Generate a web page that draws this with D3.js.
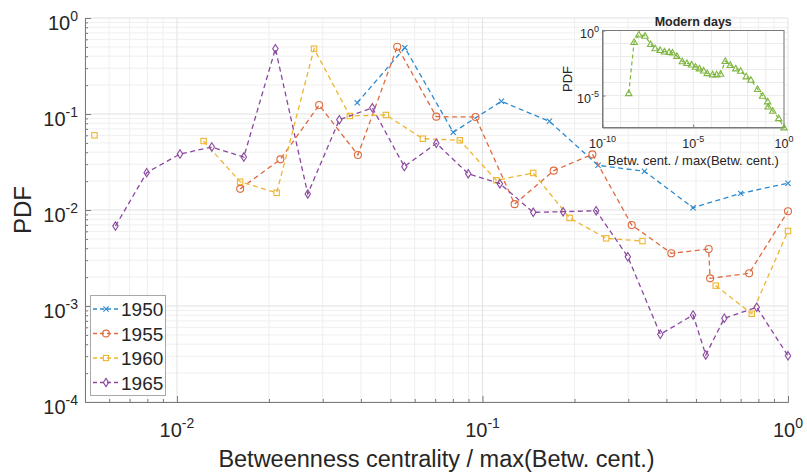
<!DOCTYPE html>
<html>
<head>
<meta charset="utf-8">
<script src="https://cdn.jsdelivr.net/npm/d3@7"></script>
<style>
  body { margin: 0; background: #fff; }
  svg { display: block; }
  text { font-family: "Liberation Sans", Arial, Helvetica, sans-serif; fill: #262626; }
</style>
</head>
<body>
<svg id="chart" width="807" height="472"></svg>
<script>
// ---- data: normalised betweenness centrality (x) vs PDF (y) per year ----
const seriesNames = ["1950", "1955", "1960", "1965"];

const x1950 = [0.0389, 0.0557, 0.0802, 0.1153, 0.1656, 0.2389, 0.339, 0.489, 0.700, 1.0];
const y1950 = [0.131, 0.491, 0.0645, 0.1356, 0.0839, 0.0292, 0.0253, 0.01057, 0.0149, 0.019];

const x1955 = [0.0161, 0.0218, 0.0292, 0.0391, 0.0526, 0.0706, 0.0949, 0.1274, 0.171, 0.229, 0.308, 0.415, 0.550, 0.556, 0.746, 1.0];
const y1955 = [0.0166, 0.0337, 0.124, 0.0374, 0.502, 0.0938, 0.0930, 0.0115, 0.0257, 0.038, 0.00698, 0.00354, 0.00392, 0.00194, 0.00219, 0.0097];

// empty bins (null) break the line
const x1960 = [0.00537, null, 0.01222, 0.0161, 0.0212, 0.0281, 0.0368, 0.0483, 0.0638, 0.0843, 0.111, 0.1466, 0.1928, 0.254, 0.334, null, 0.580, 0.761, 1.0];
const y1960 = [0.060, null, 0.0523, 0.0197, 0.0151, 0.479, 0.0953, 0.0977, 0.0553, 0.0532, 0.0204, 0.0243, 0.00826, 0.00507, 0.00475, null, 0.00163, 0.00083, 0.00604];

const x1965 = [0.00629, 0.00796, 0.01023, 0.0130, 0.01655, 0.0210, 0.0268, 0.0340, 0.0436, 0.0555, 0.0706, 0.0898, 0.114, 0.1466, 0.1836, 0.2355, 0.299, 0.382, 0.489, 0.538, 0.619, 0.79, 1.0];
const y1965 = [0.0068, 0.0245, 0.0383, 0.0453, 0.0356, 0.479, 0.0147, 0.0872, 0.116, 0.0283, 0.0495, 0.0239, 0.0188, 0.00946, 0.0096, 0.00984, 0.00326, 0.000507, 0.000806, 0.000309, 0.000745, 0.00097, 0.000303];

// modern-day distribution (inset)
const xModern = [2.8e-9, 5.5e-9, 1.0e-8, 2.2e-8, 4.5e-8, 8.0e-8, 1.5e-7, 2.6e-7, 4.7e-7, 7.2e-7, 1.26e-6, 2.5e-6, 4.5e-6, 8.1e-6, 1.35e-5, 2.2e-5, 3.7e-5, 5.9e-5, 1.17e-4, 1.95e-4, 3.2e-4, 5.8e-4, 1.1e-3, 2.2e-3, 4.1e-3, 8.3e-3, 1.5e-2, 3.5e-2, 6.6e-2, 0.126, 0.135, 0.24, 0.51, 1.0];
const yModern = [1.5e-5, 0.13, 0.49, 0.39, 0.09, 0.042, 0.031, 0.024, 0.022, 0.020, 0.011, 0.0042, 0.0031, 0.0024, 0.0016, 0.0012, 0.00083, 0.00052, 0.00042, 0.00042, 0.00047, 0.0045, 0.0022, 0.0012, 0.00079, 0.00029, 0.00016, 3.1e-5, 9.5e-6, 3.5e-6, 1.4e-6, 6.6e-7, 1.8e-7, 3.5e-8];

// tick labels (exponents of ten)
const mainXTickExp = [-2, -1, 0];
const mainYTickExp = [-4, -3, -2, -1, 0];
const insetXTickExp = [-10, -5, 0];
const insetYTickExp = [-5, 0];

// ---- styling ----
const colors = ["#2b8ad0", "#df6a3e", "#eeb630", "#8b48a0"];
const markers = ["x", "circle", "square", "diamond"];
const modernColor = "#7fb641";
const gridMinor = "#efefef", gridMajor = "#e2e2e2", axisColor = "#7a7a7a";

const W = 807, H = 472;
const m = { l: 85, r: 19, t: 18, b: 70 };
const svg = d3.select("#chart");

const x = d3.scaleLog().domain([0.005, 1]).range([m.l, W - m.r]);
const y = d3.scaleLog().domain([1e-4, 1]).range([H - m.b, m.t]);

const xMajor = mainXTickExp.map(e => Math.pow(10, e));
const yMajor = mainYTickExp.map(e => Math.pow(10, e));
const xMinor = x.ticks().filter(v => !xMajor.some(t => Math.abs(t - v) / t < 1e-9));
const yMinor = y.ticks().filter(v => !yMajor.some(t => Math.abs(t - v) / t < 1e-9));

// grid
const grid = svg.append("g");
grid.selectAll(".gxm").data(xMinor).join("line")
  .attr("x1", d => x(d)).attr("x2", d => x(d)).attr("y1", m.t).attr("y2", H - m.b)
  .attr("stroke", gridMinor).attr("stroke-width", 1);
grid.selectAll(".gym").data(yMinor).join("line")
  .attr("y1", d => y(d)).attr("y2", d => y(d)).attr("x1", m.l).attr("x2", W - m.r)
  .attr("stroke", gridMinor).attr("stroke-width", 1);
grid.selectAll(".gxM").data(xMajor).join("line")
  .attr("x1", d => x(d)).attr("x2", d => x(d)).attr("y1", m.t).attr("y2", H - m.b)
  .attr("stroke", gridMajor).attr("stroke-width", 1);
grid.selectAll(".gyM").data(yMajor).join("line")
  .attr("y1", d => y(d)).attr("y2", d => y(d)).attr("x1", m.l).attr("x2", W - m.r)
  .attr("stroke", gridMajor).attr("stroke-width", 1);

// axes (ticks point inward)
function styleAxis(g) {
  g.selectAll("path, line").attr("stroke", axisColor);
  g.selectAll("text").remove();
}
svg.append("g").attr("transform", `translate(0,${H - m.b})`)
  .call(d3.axisBottom(x).tickValues(xMinor).tickSize(-3).tickSizeOuter(0).tickFormat(""))
  .call(styleAxis);
svg.append("g").attr("transform", `translate(0,${H - m.b})`)
  .call(d3.axisBottom(x).tickValues(xMajor).tickSize(-6).tickSizeOuter(0).tickFormat(""))
  .call(styleAxis);
svg.append("g").attr("transform", `translate(${m.l},0)`)
  .call(d3.axisLeft(y).tickValues(yMinor).tickSize(-3).tickSizeOuter(0).tickFormat(""))
  .call(styleAxis);
svg.append("g").attr("transform", `translate(${m.l},0)`)
  .call(d3.axisLeft(y).tickValues(yMajor).tickSize(-6).tickSizeOuter(0).tickFormat(""))
  .call(styleAxis);

// power-of-ten label with superscript exponent
function powLabel(sel, exp, baseSize, supSize, supRise) {
  sel.append("tspan").attr("font-size", baseSize).text("10");
  sel.append("tspan").attr("font-size", supSize).attr("dy", -supRise).text(String(exp).replace("-", "-"));
}

mainXTickExp.forEach(e => {
  const t = svg.append("text").attr("x", x(Math.pow(10, e))).attr("y", 437)
    .attr("text-anchor", "middle");
  powLabel(t, e, 20, 14, 9);
});
mainYTickExp.forEach(e => {
  const t = svg.append("text").attr("x", 78).attr("y", y(Math.pow(10, e)) + 12)
    .attr("text-anchor", "end");
  powLabel(t, e, 20, 14, 9);
});

svg.append("text").attr("x", (m.l + W - m.r) / 2).attr("y", 467)
  .attr("text-anchor", "middle").attr("font-size", 23.5)
  .text("Betweenness centrality / max(Betw. cent.)");
svg.append("text").attr("transform", `translate(31,${(m.t + H - m.b) / 2}) rotate(-90)`)
  .attr("text-anchor", "middle").attr("font-size", 24).text("PDF");

// markers
function drawMarker(g, type, cx, cy, color, s) {
  if (type === "x") {
    g.append("path").attr("d", `M${cx - s},${cy - s}L${cx + s},${cy + s}M${cx - s},${cy + s}L${cx + s},${cy - s}`)
      .attr("stroke", color).attr("stroke-width", 1.1).attr("fill", "none");
  } else if (type === "circle") {
    g.append("circle").attr("cx", cx).attr("cy", cy).attr("r", s + 0.8)
      .attr("stroke", color).attr("stroke-width", 1.1).attr("fill", "none");
  } else if (type === "square") {
    g.append("rect").attr("x", cx - s).attr("y", cy - s).attr("width", 2 * s).attr("height", 2 * s)
      .attr("stroke", color).attr("stroke-width", 1.1).attr("fill", "none");
  } else if (type === "diamond") {
    g.append("path").attr("d", `M${cx},${cy - s - 1.5}L${cx + s},${cy}L${cx},${cy + s + 1.5}L${cx - s},${cy}Z`)
      .attr("stroke", color).attr("stroke-width", 1.1).attr("fill", "none");
  } else if (type === "triangle") {
    g.append("path").attr("d", `M${cx},${cy - s}L${cx + s},${cy + s * 0.75}L${cx - s},${cy + s * 0.75}Z`)
      .attr("stroke", color).attr("stroke-width", 1.1).attr("fill", "none");
  }
}

const allX = [x1950, x1955, x1960, x1965];
const allY = [y1950, y1955, y1960, y1965];
const plotG = svg.append("g");
seriesNames.forEach((name, i) => {
  const pts = allX[i].map((xv, j) => ({ x: xv, y: allY[i][j] }));
  const line = d3.line().defined(d => d.x != null && d.y != null)
    .x(d => x(d.x)).y(d => y(d.y));
  plotG.append("path").attr("d", line(pts)).attr("fill", "none")
    .attr("stroke", colors[i]).attr("stroke-width", 1.3).attr("stroke-dasharray", "5,3.5");
  const mg = plotG.append("g");
  pts.filter(d => d.x != null && d.y != null).forEach(d => {
    drawMarker(mg, markers[i], x(d.x), y(d.y), colors[i], markers[i] === "x" ? 2.6 : 2.7);
  });
});

// legend
const lg = svg.append("g");
lg.append("rect").attr("x", 90.5).attr("y", 295.5).attr("width", 75).attr("height", 100)
  .attr("fill", "#fff").attr("stroke", "#a8a8a8").attr("stroke-width", 1);
seriesNames.forEach((name, i) => {
  const ly = 309 + i * 24.5;
  lg.append("line").attr("x1", 93).attr("x2", 119).attr("y1", ly).attr("y2", ly)
    .attr("stroke", colors[i]).attr("stroke-width", 1.3).attr("stroke-dasharray", "4,3");
  drawMarker(lg, markers[i], 106, ly, colors[i], 2.6);
  lg.append("text").attr("x", 121).attr("y", ly + 7).attr("font-size", 19).text(name);
});

// ---- inset: modern days ----
const ib = { l: 602.5, r: 784, t: 30.5, b: 127.5 };
const ix = d3.scaleLog().domain([1e-10, 1]).range([ib.l, ib.r]);
const iy = d3.scaleLog().domain([3.5e-8, 1]).range([ib.b, ib.t]);
const inset = svg.append("g");
inset.append("rect").attr("x", ib.l).attr("y", ib.t).attr("width", ib.r - ib.l).attr("height", ib.b - ib.t)
  .attr("fill", "#fff");
const ixDec = d3.range(-10, 1).map(e => Math.pow(10, e));
const iyDec = d3.range(-7, 1).map(e => Math.pow(10, e));
inset.selectAll(".igx").data(ixDec).join("line")
  .attr("x1", d => ix(d)).attr("x2", d => ix(d)).attr("y1", ib.t).attr("y2", ib.b)
  .attr("stroke", "#ebebeb");
inset.selectAll(".igy").data(iyDec).join("line")
  .attr("y1", d => iy(d)).attr("y2", d => iy(d)).attr("x1", ib.l).attr("x2", ib.r)
  .attr("stroke", "#ebebeb");
inset.append("g").attr("transform", `translate(0,${ib.b})`)
  .call(d3.axisBottom(ix).tickValues(insetXTickExp.map(e => Math.pow(10, e))).tickSize(-3).tickSizeOuter(0).tickFormat(""))
  .call(styleAxis);
inset.append("g").attr("transform", `translate(${ib.l},0)`)
  .call(d3.axisLeft(iy).tickValues(insetYTickExp.map(e => Math.pow(10, e))).tickSize(-3).tickSizeOuter(0).tickFormat(""))
  .call(styleAxis);
inset.append("rect").attr("x", ib.l).attr("y", ib.t).attr("width", ib.r - ib.l).attr("height", ib.b - ib.t)
  .attr("fill", "none").attr("stroke", axisColor).attr("stroke-width", 1);

insetXTickExp.forEach(e => {
  const t = inset.append("text").attr("x", ix(Math.pow(10, e))).attr("y", 148).attr("text-anchor", "middle");
  powLabel(t, e, 12.5, 9, 6);
});
insetYTickExp.forEach(e => {
  const t = inset.append("text").attr("x", 599).attr("y", iy(Math.pow(10, e)) + 7).attr("text-anchor", "end");
  powLabel(t, e, 12.5, 9, 6);
});
inset.append("text").attr("x", (ib.l + ib.r) / 2).attr("y", 26).attr("text-anchor", "middle")
  .attr("font-size", 12.5).attr("font-weight", "bold").attr("fill", "#111").text("Modern days");
inset.append("text").attr("x", (ib.l + ib.r) / 2).attr("y", 165).attr("text-anchor", "middle")
  .attr("font-size", 13).text("Betw. cent. / max(Betw. cent.)");
inset.append("text").attr("transform", `translate(572,${(ib.t + ib.b) / 2}) rotate(-90)`)
  .attr("text-anchor", "middle").attr("font-size", 13).text("PDF");

const modernPts = xModern.map((xv, j) => ({ x: xv, y: yModern[j] }));
inset.append("path").attr("d", d3.line().x(d => ix(d.x)).y(d => iy(d.y))(modernPts))
  .attr("fill", "none").attr("stroke", modernColor).attr("stroke-width", 1.2).attr("stroke-dasharray", "4,3");
const tg = inset.append("g");
modernPts.forEach(d => drawMarker(tg, "triangle", ix(d.x), iy(d.y), modernColor, 3.2));
</script>
</body>
</html>
